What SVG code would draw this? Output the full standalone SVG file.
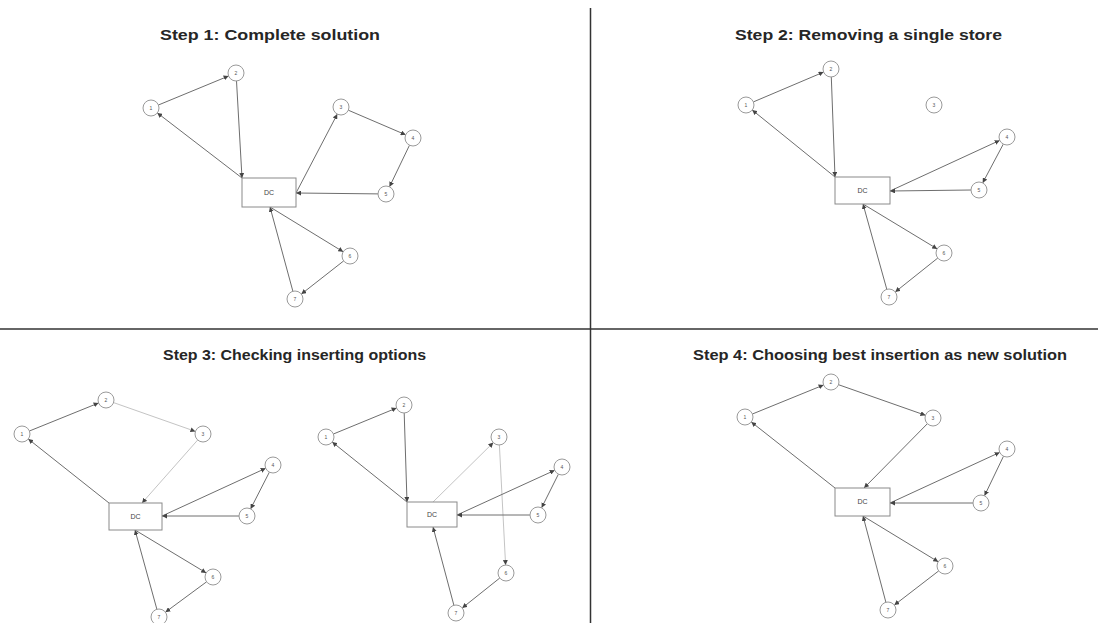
<svg xmlns="http://www.w3.org/2000/svg" width="1098" height="623" viewBox="0 0 1098 623">
  <style>
    .title { font-family: "Liberation Sans", Arial, sans-serif; font-weight: bold; font-size: 15px; fill: #262626; }
    .store circle { fill: #ffffff; stroke: #9a9a9a; stroke-width: 1; }
    .store text { font-family: "Liberation Sans", Arial, sans-serif; font-size: 5px; fill: #555; text-anchor: middle; }
    .dc rect { fill: #ffffff; stroke: #8a8a8a; stroke-width: 1; }
    .dc text { font-family: "Liberation Sans", Arial, sans-serif; font-size: 7px; fill: #444; text-anchor: middle; }
    .edge line { stroke: #6e6e6e; stroke-width: 1; marker-end: url(#arrow); }
    .edge line.new { stroke: #c4c4c4; }
    .divider { stroke: #333; stroke-width: 1.5; }
  </style>
  <defs>
    <marker id="arrow" viewBox="0 0 6 6" refX="6" refY="3" markerWidth="5" markerHeight="5" markerUnits="userSpaceOnUse" orient="auto">
      <path d="M0,0 L6,3 L0,6 z" fill="#444"/>
    </marker>
  </defs>

  <rect width="1098" height="623" fill="#ffffff"/>

  <!-- quadrant dividers -->
  <line class="divider" x1="590.5" y1="8" x2="590.5" y2="623"/>
  <line class="divider" x1="0" y1="329" x2="1098" y2="329"/>

  <!-- titles -->
  <text class="title" x="160" y="40" textLength="220" lengthAdjust="spacingAndGlyphs">Step 1: Complete solution</text>
  <text class="title" x="735" y="40" textLength="267" lengthAdjust="spacingAndGlyphs">Step 2: Removing a single store</text>
  <text class="title" x="163" y="360" textLength="263" lengthAdjust="spacingAndGlyphs">Step 3: Checking inserting options</text>
  <text class="title" x="693" y="360" textLength="374" lengthAdjust="spacingAndGlyphs">Step 4: Choosing best insertion as new solution</text>

  <!-- ===== Step 1 ===== -->
  <g id="s1-connectors" class="edge">
    <line x1="242" y1="178" x2="157.3" y2="112.9"/>
    <line x1="158.4" y1="105" x2="228.6" y2="76"/>
    <line x1="236.5" y1="81" x2="242" y2="178"/>
    <line x1="296" y1="193" x2="337.3" y2="114.1"/>
    <line x1="348.3" y1="110.2" x2="405.7" y2="134.8"/>
    <line x1="409.5" y1="145.2" x2="389.5" y2="186.8"/>
    <line x1="378" y1="193.9" x2="296" y2="193"/>
    <line x1="270" y1="207" x2="343.2" y2="251.8"/>
    <line x1="343.7" y1="260.9" x2="301.3" y2="294.1"/>
    <line x1="292.9" y1="291.3" x2="270" y2="207"/>
  </g>
  <g id="s1-dc" class="dc"><rect x="242" y="178" width="54" height="29"/><text x="269" y="195">DC</text></g>
  <g id="s1-n1" class="store"><circle cx="151" cy="108" r="8"/><text x="151" y="110">1</text></g>
  <g id="s1-n2" class="store"><circle cx="236" cy="73" r="8"/><text x="236" y="75">2</text></g>
  <g id="s1-n3" class="store"><circle cx="341" cy="107" r="8"/><text x="341" y="109">3</text></g>
  <g id="s1-n4" class="store"><circle cx="413" cy="138" r="8"/><text x="413" y="140">4</text></g>
  <g id="s1-n5" class="store"><circle cx="386" cy="194" r="8"/><text x="386" y="196">5</text></g>
  <g id="s1-n6" class="store"><circle cx="350" cy="256" r="8"/><text x="350" y="258">6</text></g>
  <g id="s1-n7" class="store"><circle cx="295" cy="299" r="8"/><text x="295" y="301">7</text></g>

  <!-- ===== Step 2 ===== -->
  <g id="s2-connectors" class="edge">
    <line x1="835" y1="177" x2="752.2" y2="110"/>
    <line x1="753.4" y1="101.9" x2="823.6" y2="72.1"/>
    <line x1="831.3" y1="77" x2="835" y2="177"/>
    <line x1="890" y1="191" x2="999.7" y2="140.4"/>
    <line x1="1003.3" y1="144.1" x2="982.7" y2="182.9"/>
    <line x1="971" y1="190" x2="890" y2="191"/>
    <line x1="863" y1="204" x2="937.2" y2="248.9"/>
    <line x1="937.8" y1="258" x2="895.2" y2="292"/>
    <line x1="886.8" y1="289.3" x2="863" y2="204"/>
  </g>
  <g id="s2-dc" class="dc"><rect x="835" y="177" width="55" height="27"/><text x="862.5" y="193">DC</text></g>
  <g id="s2-n1" class="store"><circle cx="746" cy="105" r="8"/><text x="746" y="107">1</text></g>
  <g id="s2-n2" class="store"><circle cx="831" cy="69" r="8"/><text x="831" y="71">2</text></g>
  <g id="s2-n3" class="store"><circle cx="934" cy="105" r="8"/><text x="934" y="107">3</text></g>
  <g id="s2-n4" class="store"><circle cx="1007" cy="137" r="8"/><text x="1007" y="139">4</text></g>
  <g id="s2-n5" class="store"><circle cx="979" cy="190" r="8"/><text x="979" y="192">5</text></g>
  <g id="s2-n6" class="store"><circle cx="944" cy="253" r="8"/><text x="944" y="255">6</text></g>
  <g id="s2-n7" class="store"><circle cx="889" cy="297" r="8"/><text x="889" y="299">7</text></g>

  <!-- ===== Step 3, option A ===== -->
  <g id="s3a-connectors" class="edge">
    <line x1="109" y1="503" x2="28.3" y2="439"/>
    <line x1="29.4" y1="431" x2="98.6" y2="403"/>
    <line class="new" x1="113.6" y1="402.6" x2="195.4" y2="431.4"/>
    <line class="new" x1="197.7" y1="440" x2="142" y2="503"/>
    <line x1="162" y1="516" x2="265.7" y2="468.3"/>
    <line x1="269.4" y1="472.1" x2="250.6" y2="508.9"/>
    <line x1="239" y1="516" x2="162" y2="516"/>
    <line x1="135" y1="530" x2="206.2" y2="572.9"/>
    <line x1="206.6" y1="581.8" x2="165.4" y2="612.2"/>
    <line x1="156.9" y1="609.3" x2="135" y2="530"/>
  </g>
  <g id="s3a-dc" class="dc"><rect x="109" y="503" width="53" height="27"/><text x="135.5" y="519">DC</text></g>
  <g id="s3a-n1" class="store"><circle cx="22" cy="434" r="8"/><text x="22" y="436">1</text></g>
  <g id="s3a-n2" class="store"><circle cx="106" cy="400" r="8"/><text x="106" y="402">2</text></g>
  <g id="s3a-n3" class="store"><circle cx="203" cy="434" r="8"/><text x="203" y="436">3</text></g>
  <g id="s3a-n4" class="store"><circle cx="273" cy="465" r="8"/><text x="273" y="467">4</text></g>
  <g id="s3a-n5" class="store"><circle cx="247" cy="516" r="8"/><text x="247" y="518">5</text></g>
  <g id="s3a-n6" class="store"><circle cx="213" cy="577" r="8"/><text x="213" y="579">6</text></g>
  <g id="s3a-n7" class="store"><circle cx="159" cy="617" r="8"/><text x="159" y="619">7</text></g>

  <!-- ===== Step 3, option B ===== -->
  <g id="s3b-connectors" class="edge">
    <line x1="407" y1="502" x2="332.2" y2="442"/>
    <line x1="333.4" y1="434" x2="396.6" y2="408"/>
    <line x1="404.2" y1="413" x2="407" y2="502"/>
    <line class="new" x1="433" y1="502" x2="493.3" y2="442.6"/>
    <line class="new" x1="499.4" y1="445" x2="505.6" y2="565"/>
    <line x1="457" y1="515" x2="554.7" y2="470.3"/>
    <line x1="558.4" y1="474.2" x2="541.6" y2="507.8"/>
    <line x1="530" y1="515" x2="457" y2="515"/>
    <line x1="499.8" y1="578" x2="462.2" y2="608"/>
    <line x1="453.9" y1="605.3" x2="433" y2="527"/>
  </g>
  <g id="s3b-dc" class="dc"><rect x="407" y="502" width="50" height="25"/><text x="432" y="517">DC</text></g>
  <g id="s3b-n1" class="store"><circle cx="326" cy="437" r="8"/><text x="326" y="439">1</text></g>
  <g id="s3b-n2" class="store"><circle cx="404" cy="405" r="8"/><text x="404" y="407">2</text></g>
  <g id="s3b-n3" class="store"><circle cx="499" cy="437" r="8"/><text x="499" y="439">3</text></g>
  <g id="s3b-n4" class="store"><circle cx="562" cy="467" r="8"/><text x="562" y="469">4</text></g>
  <g id="s3b-n5" class="store"><circle cx="538" cy="515" r="8"/><text x="538" y="517">5</text></g>
  <g id="s3b-n6" class="store"><circle cx="506" cy="573" r="8"/><text x="506" y="575">6</text></g>
  <g id="s3b-n7" class="store"><circle cx="456" cy="613" r="8"/><text x="456" y="615">7</text></g>

  <!-- ===== Step 4 ===== -->
  <g id="s4-connectors" class="edge">
    <line x1="835" y1="488" x2="751.3" y2="422"/>
    <line x1="752.4" y1="414" x2="823.6" y2="385"/>
    <line x1="838.5" y1="384.7" x2="925.5" y2="415.3"/>
    <line x1="927.4" y1="423.7" x2="864" y2="488"/>
    <line x1="890" y1="503" x2="999.7" y2="452.4"/>
    <line x1="1003.5" y1="456.2" x2="984.5" y2="495.8"/>
    <line x1="973" y1="503" x2="890" y2="503"/>
    <line x1="863" y1="516" x2="938.2" y2="561.8"/>
    <line x1="938.7" y1="570.9" x2="894.3" y2="605.1"/>
    <line x1="885.9" y1="602.3" x2="863" y2="516"/>
  </g>
  <g id="s4-dc" class="dc"><rect x="835" y="488" width="55" height="28"/><text x="862.5" y="504">DC</text></g>
  <g id="s4-n1" class="store"><circle cx="745" cy="417" r="8"/><text x="745" y="419">1</text></g>
  <g id="s4-n2" class="store"><circle cx="831" cy="382" r="8"/><text x="831" y="384">2</text></g>
  <g id="s4-n3" class="store"><circle cx="933" cy="418" r="8"/><text x="933" y="420">3</text></g>
  <g id="s4-n4" class="store"><circle cx="1007" cy="449" r="8"/><text x="1007" y="451">4</text></g>
  <g id="s4-n5" class="store"><circle cx="981" cy="503" r="8"/><text x="981" y="505">5</text></g>
  <g id="s4-n6" class="store"><circle cx="945" cy="566" r="8"/><text x="945" y="568">6</text></g>
  <g id="s4-n7" class="store"><circle cx="888" cy="610" r="8"/><text x="888" y="612">7</text></g>
</svg>
